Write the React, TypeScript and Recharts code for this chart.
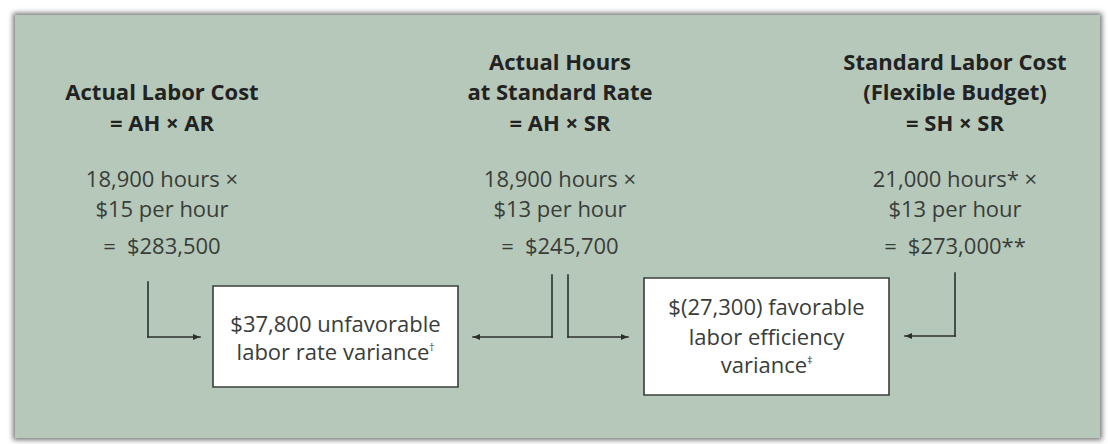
import React from "react";
import {
  ComposedChart,
  XAxis,
  YAxis,
  Scatter,
  ReferenceArea,
  ReferenceLine,
} from "recharts";

// diagram coordinates are page pixels, the axes map them 1:1
const columnX = [162, 560, 955];
const headerRows = [70, 100, 131];
const calcRows = [187, 217, 254];

const headers = [
  ["", "Actual Labor Cost", "= AH × AR"],
  ["Actual Hours", "at Standard Rate", "= AH × SR"],
  ["Standard Labor Cost", "(Flexible Budget)", "= SH × SR"],
];

const calcs = [
  ["18,900 hours ×", "$15 per hour", "=\u2002$283,500"],
  ["18,900 hours ×", "$13 per hour", "=\u2002$245,700"],
  ["21,000 hours* ×", "$13 per hour", "=\u2002$273,000**"],
];

const boxes = [
  { x1: 213, x2: 458, y1: 286, y2: 387 },
  { x1: 644, x2: 889, y1: 278, y2: 395 },
];

const boxText = [
  { lines: ["$37,800 unfavorable", "labor rate variance"], mark: "†", rows: [332, 360] },
  { lines: ["$(27,300) favorable", "labor efficiency", "variance"], mark: "‡", rows: [315, 345, 373] },
];

const connectors = [
  [{ x: 148, y: 282 }, { x: 148, y: 337 }, { x: 200, y: 337 }],
  [{ x: 552, y: 275 }, { x: 552, y: 337 }, { x: 473, y: 337 }],
  [{ x: 568, y: 275 }, { x: 568, y: 337 }, { x: 628, y: 337 }],
  [{ x: 955, y: 273 }, { x: 955, y: 336 }, { x: 905, y: 336 }],
];

const FONT = "'Open Sans', sans-serif";
const INK = "#2b302c";

type TextPoint = { x: number; y: number; text: string; bold?: boolean; mark?: string };

const textPoints: TextPoint[] = [];
headers.forEach((col, i) =>
  col.forEach((t, r) => {
    if (t) textPoints.push({ x: columnX[i], y: headerRows[r], text: t, bold: true });
  })
);
calcs.forEach((col, i) =>
  col.forEach((t, r) => textPoints.push({ x: columnX[i], y: calcRows[r], text: t }))
);
boxText.forEach((b, i) => {
  const cx = (boxes[i].x1 + boxes[i].x2) / 2;
  b.lines.forEach((t, r) =>
    textPoints.push({
      x: cx,
      y: b.rows[r],
      text: t,
      mark: r === b.lines.length - 1 ? b.mark : undefined,
    })
  );
});

const arrowPoints = connectors.map((c) => {
  const end = c[c.length - 1];
  const prev = c[c.length - 2];
  return { x: end.x, y: end.y, dir: end.x > prev.x ? 1 : -1 };
});

const TextShape = (props: any) => {
  const p: TextPoint = props.payload;
  return (
    <text
      x={props.cx}
      y={props.cy}
      textAnchor="middle"
      fontFamily={FONT}
      fontSize={22}
      fontWeight={p.bold ? 700 : 400}
      fill={p.bold ? "#222" : "#393d3a"}
      style={{ whiteSpace: "pre" }}
    >
      {p.text}
      {p.mark && (
        <tspan fontSize={10} dy={-9}>
          {p.mark}
        </tspan>
      )}
    </text>
  );
};

const ArrowShape = (props: any) => {
  const { cx, cy } = props;
  const d = props.payload.dir;
  return (
    <polygon
      points={`${cx},${cy} ${cx - 7 * d},${cy - 3} ${cx - 7 * d},${cy + 3}`}
      fill={INK}
    />
  );
};

export default function App() {
  return (
    <div style={{ position: "absolute", left: 0, top: 0, width: 1108, height: 444, background: "#fff" }}>
      <div
        style={{
          position: "absolute",
          left: 15,
          top: 15,
          width: 1085,
          height: 423,
          background: "#b6c8b9",
          boxShadow: "0 0 5px 2px rgba(70,70,70,0.75)",
        }}
      >
        <ComposedChart width={1085} height={423} margin={{ top: 0, right: 0, bottom: 0, left: 0 }}>
          <XAxis type="number" dataKey="x" domain={[15, 1100]} hide allowDataOverflow />
          <YAxis type="number" dataKey="y" domain={[15, 438]} reversed hide allowDataOverflow />
          {boxes.map((b, i) => (
            <ReferenceArea
              key={i}
              x1={b.x1}
              x2={b.x2}
              y1={b.y1}
              y2={b.y2}
              fill="#fff"
              fillOpacity={1}
              stroke="#3a3f3b"
              strokeWidth={1.6}
            />
          ))}
          {connectors.flatMap((c, i) =>
            c.slice(1).map((pt, j) => (
              <ReferenceLine
                key={`${i}-${j}`}
                segment={[c[j], pt]}
                stroke={INK}
                strokeWidth={1.6}
                strokeLinecap="square"
              />
            ))
          )}
          <Scatter data={arrowPoints} dataKey="y" shape={ArrowShape} isAnimationActive={false} />
          <Scatter data={textPoints} dataKey="y" shape={TextShape} isAnimationActive={false} />
        </ComposedChart>
      </div>
    </div>
  );
}
